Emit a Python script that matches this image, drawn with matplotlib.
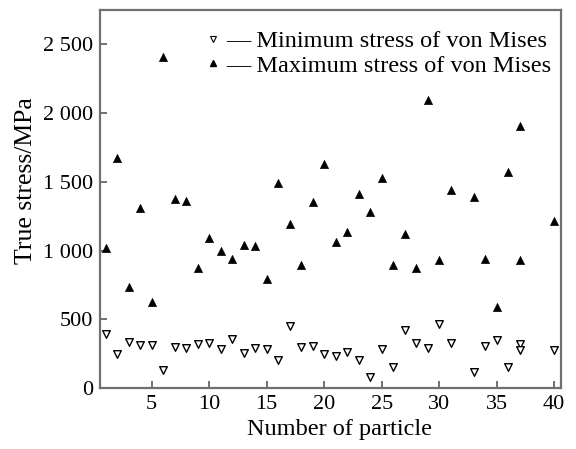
import matplotlib
matplotlib.use("Agg")
import matplotlib.pyplot as plt
from matplotlib.lines import Line2D
from matplotlib.ticker import FuncFormatter

plt.rcParams['font.family'] = ['Liberation Serif', 'DejaVu Serif']

# particle numbers (particle 37 has two recorded states)
particles = [1, 2, 3, 4, 5, 6, 7, 8, 9, 10,
             11, 12, 13, 14, 15, 16, 17, 18, 19, 20,
             21, 22, 23, 24, 25, 26, 27, 28, 29, 30,
             31, 33, 34, 35, 36, 37, 37, 40]

min_stress = [396, 250, 335, 316, 311, 134, 298, 294, 323, 330,
              287, 360, 255, 291, 282, 207, 449, 298, 309, 250,
              231, 262, 202, 80, 287, 153, 425, 330, 294, 469,
              328, 116, 303, 352, 153, 323, 279, 279]

max_stress = [1022, 1670, 735, 1310, 626, 2409, 1373, 1359, 876, 1092,
              995, 942, 1039, 1031, 796, 1492, 1196, 898, 1354, 1633,
              1063, 1135, 1408, 1281, 1528, 898, 1124, 873, 2094, 929,
              1444, 1390, 942, 590, 1572, 1907, 929, 1215]

x_ticks = [5, 10, 15, 20, 25, 30, 35, 40]
y_ticks = [0, 500, 1000, 1500, 2000, 2500]

spine_color = '#707070'

fig = plt.figure(figsize=(5.76, 4.49), dpi=100)
ax = fig.add_axes([100 / 576, 1 - 388 / 449, 461 / 576, 378 / 449])

ax.scatter(particles, max_stress, marker='^', s=34, color='black',
           edgecolors='black', linewidths=0.5, zorder=3)
ax.scatter(particles, min_stress, marker='v', s=30, facecolors='white',
           edgecolors='black', linewidths=1.0, zorder=3)

ax.set_xlim(0.5, 40.6)
ax.set_ylim(0, 2750)
ax.set_xticks(x_ticks)
ax.set_yticks(y_ticks)
# thousands grouped with a space, e.g. "2 500"
ax.yaxis.set_major_formatter(FuncFormatter(
    lambda v, _: f"{int(v):,}".replace(',', ' ')))

for side in ('left', 'right', 'top', 'bottom'):
    ax.spines[side].set_color(spine_color)
    ax.spines[side].set_linewidth(1.6)

ax.tick_params(axis='both', direction='in', length=5, width=1.4,
               color=spine_color, labelsize=16, pad=5,
               top=False, right=False)

ax.set_xlabel('Number of particle', fontsize=17.5)
ax.set_ylabel('True stress/MPa', fontsize=18.5)
ax.xaxis.set_label_coords(0.5206, -0.082)
ax.yaxis.set_label_coords(-0.1367, 0.5476)

handles = [
    Line2D([], [], marker='v', linestyle='none', markersize=4,
           markerfacecolor='white', markeredgecolor='black',
           markeredgewidth=0.8),
    Line2D([], [], marker='^', linestyle='none', markersize=4,
           color='black'),
]
labels = ['\u2014 Minimum stress of von Mises',
          '\u2014 Maximum stress of von Mises']
ax.legend(handles, labels, loc='upper left', bbox_to_anchor=(0.232, 0.947),
          frameon=False, fontsize=17.5, handlelength=0.5, handletextpad=0.3,
          labelspacing=0.12, borderaxespad=0, borderpad=0)

fig.savefig('out.png', dpi=100)
